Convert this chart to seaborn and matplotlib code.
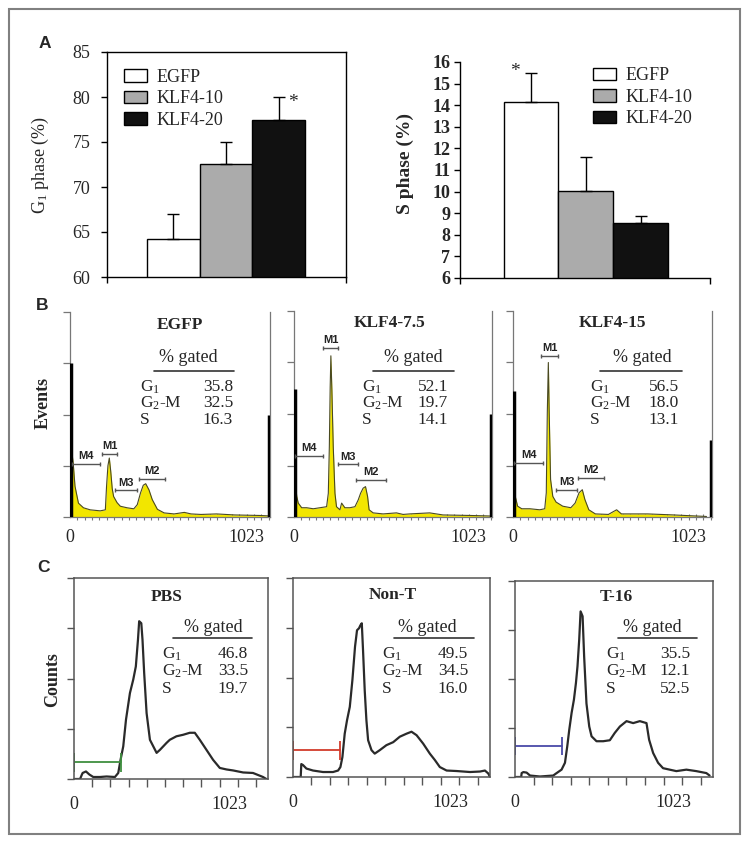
import numpy as np
import pandas as pd
import matplotlib
matplotlib.use("Agg")
import matplotlib.pyplot as plt
from matplotlib.patches import Patch, Rectangle
from matplotlib.lines import Line2D
import seaborn as sns

W, H = 747, 842

# ---- panel A: bar charts ----
groups = ["EGFP", "KLF4-10", "KLF4-20"]
g1_mean = [64.2, 72.6, 77.4]
g1_err = [2.8, 2.4, 2.6]
s_mean = [14.15, 10.05, 8.55]
s_err = [1.35, 1.55, 0.3]
bar_colors = ["white", "#ababab", "#111111"]

# ---- panel B: DNA content histograms (channel, events) ----
b_titles = ["EGFP", "KLF4-7.5", "KLF4-15"]
b_gated = [("35.8", "32.5", "16.3"), ("52.1", "19.7", "14.1"), ("56.5", "18.0", "13.1")]
b_ch_egfp = [0, 6, 10, 20, 29, 49, 78, 117, 175, 205, 212, 220, 228, 236, 245, 253, 273,
             292, 331, 370, 390, 409, 425, 439, 458, 477, 507, 546, 604, 663, 702, 760,
             850, 955, 1100, 1160]
b_ev_egfp = [1.64, 1.64, 1.3, 0.99, 0.60, 0.27, 0.18, 0.14, 0.12, 0.14, 0.6, 1.0, 1.15, 0.9,
             0.55, 0.40, 0.28, 0.21, 0.18, 0.16, 0.24, 0.47, 0.62, 0.65, 0.53, 0.34, 0.15,
             0.08, 0.06, 0.09, 0.06, 0.05, 0.06, 0.04, 0.03, 0.02]
b_ch_k75 = [0, 6, 16, 25, 45, 74, 113, 152, 191, 201, 207, 212, 216, 222, 230, 240, 249,
            269, 279, 298, 327, 357, 376, 390, 405, 419, 431, 440, 464, 522, 600, 639, 678,
            795, 873, 1029, 1146]
b_ev_k75 = [0.72, 0.72, 0.40, 0.27, 0.18, 0.18, 0.16, 0.18, 0.20, 0.46, 1.36, 2.52, 3.13,
            2.46, 1.36, 0.46, 0.20, 0.14, 0.27, 0.18, 0.18, 0.20, 0.33, 0.46, 0.56, 0.59,
            0.40, 0.14, 0.08, 0.06, 0.08, 0.05, 0.06, 0.08, 0.04, 0.03, 0.02]
b_ch_k15 = [0, 4, 13, 27, 51, 99, 156, 185, 194, 200, 206, 211, 219, 232, 251, 290, 337,
            362, 385, 404, 419, 442, 480, 556, 604, 632, 785, 937, 1128]
b_ev_k15 = [0.66, 0.66, 0.40, 0.21, 0.16, 0.16, 0.14, 0.16, 0.47, 2.03, 3.0, 2.03, 0.73,
            0.40, 0.29, 0.21, 0.18, 0.27, 0.47, 0.53, 0.34, 0.14, 0.06, 0.05, 0.14, 0.06,
            0.06, 0.04, 0.01]
b_channels = [b_ch_egfp, b_ch_k75, b_ch_k15]
b_events = [b_ev_egfp, b_ev_k75, b_ev_k15]
b_first_bin = [3.0, 2.49, 2.45]
b_last_bin = [2.0, 2.0, 1.5]
# markers: (label, start, end, height)
b_markers = [
    [("M4", 10, 175, 1.04), ("M1", 185, 273, 1.23), ("M3", 263, 390, 0.52), ("M2", 400, 550, 0.75)],
    [("M4", 6, 172, 1.19), ("M1", 168, 259, 3.29), ("M3", 255, 376, 1.02), ("M2", 366, 538, 0.72)],
    [("M4", 8, 175, 1.05), ("M1", 166, 261, 3.13), ("M3", 251, 375, 0.53), ("M2", 381, 533, 0.76)],
]

# ---- panel C: counts histograms ----
c_titles = ["PBS", "Non-T", "T-16"]
c_gated = [("46.8", "33.5", "19.7"), ("49.5", "34.5", "16.0"), ("35.5", "12.1", "52.5")]
c_ch_pbs = [0, 40, 51, 57, 79, 101, 127, 171, 215, 270, 292, 307, 325, 343, 369, 391, 408,
            422, 430, 444, 452, 463, 479, 501, 523, 545, 567, 589, 611, 632, 676, 720, 764,
            797, 830, 874, 918, 962, 1006, 1050, 1116, 1181, 1247, 1269]
c_ct_pbs = [0, 0, 0.08, 0.12, 0.15, 0.09, 0.04, 0.04, 0.05, 0.04, 0.12, 0.38, 0.65, 1.18,
            1.71, 1.98, 2.24, 2.77, 3.14, 3.10, 2.77, 2.11, 1.31, 0.78, 0.65, 0.52, 0.58,
            0.65, 0.72, 0.78, 0.85, 0.88, 0.92, 0.92, 0.78, 0.58, 0.38, 0.22, 0.19, 0.17,
            0.13, 0.12, 0.04, 0.0]
c_ch_nont = [0, 50, 54, 65, 87, 130, 195, 260, 293, 308, 321, 336, 351, 369, 386, 403, 416,
             429, 438, 447, 455, 466, 477, 488, 510, 531, 564, 607, 651, 694, 737, 770, 803,
             846, 889, 922, 954, 998, 1063, 1150, 1215, 1247, 1269, 1280]
c_ct_nont = [0, 0, 0.26, 0.24, 0.17, 0.13, 0.10, 0.10, 0.13, 0.20, 0.40, 0.87, 1.14, 1.41,
             1.95, 2.62, 2.95, 2.99, 3.05, 3.09, 2.55, 1.74, 1.14, 0.74, 0.54, 0.47, 0.54,
             0.64, 0.70, 0.81, 0.87, 0.91, 0.84, 0.67, 0.47, 0.34, 0.20, 0.13, 0.12, 0.10,
             0.11, 0.13, 0.07, 0.0]
c_ch_t16 = [0, 40, 43, 54, 75, 97, 161, 247, 269, 301, 323, 338, 351, 366, 381, 394, 404,
            415, 424, 437, 447, 462, 480, 495, 527, 570, 613, 645, 678, 721, 764, 807, 850,
            867, 893, 925, 957, 1043, 1108, 1172, 1237, 1258]
c_ct_t16 = [0, 0, 0.08, 0.10, 0.09, 0.03, 0.01, 0.03, 0.08, 0.15, 0.29, 0.63, 0.97, 1.31,
            1.58, 1.92, 2.26, 2.80, 3.38, 3.28, 2.46, 1.50, 1.03, 0.83, 0.73, 0.73, 0.75,
            0.90, 1.03, 1.14, 1.10, 1.14, 1.10, 0.76, 0.49, 0.29, 0.18, 0.12, 0.15, 0.12,
            0.08, 0.03]
c_channels = [c_ch_pbs, c_ch_nont, c_ch_t16]
c_counts = [c_ct_pbs, c_ct_nont, c_ct_t16]
c_gate_end = [307, 308, 301]
c_gate_level = [0.33, 0.54, 0.63]
c_gate_colors = ["#3f8f3f", "#d23b2b", "#4a4aa8"]

YELLOW = "#f2e600"
SERIF = ["Liberation Serif", "DejaVu Serif"]
SANS = ["Liberation Sans", "DejaVu Sans"]

sns.set_theme(style="white")
plt.rcParams["font.family"] = SERIF
plt.rcParams["mathtext.fontset"] = "custom"
plt.rcParams["mathtext.rm"] = "Liberation Serif"
plt.rcParams["mathtext.it"] = "Liberation Serif:italic"
plt.rcParams["mathtext.bf"] = "Liberation Serif:bold"


def rect(l, t, r, b):
    return [l / W, 1 - b / H, (r - l) / W, (b - t) / H]


def ftext(x, y, s, **kw):
    return fig.text(x / W, 1 - y / H, s, **kw)


def fline(x0, x1, y, **kw):
    fig.add_artist(Line2D([x0 / W, x1 / W], [1 - y / H] * 2, **kw))


def bar_legend(ax, anchor):
    ax.legend(handles=[Patch(facecolor=c, edgecolor="black", lw=1, label=g)
                       for c, g in zip(bar_colors, groups)],
              loc="upper left", bbox_to_anchor=anchor, frameon=False, fontsize=13,
              handlelength=1.3, handleheight=0.7, labelspacing=0.25, handletextpad=0.5,
              borderaxespad=0, borderpad=0)


fig = plt.figure(figsize=(W / 100, H / 100), dpi=100)
fig.add_artist(Rectangle((9 / W, 1 - 834 / H), 731 / W, 825 / H, fill=False,
                         edgecolor="#808080", lw=1.5, transform=fig.transFigure))

# ---------- A left: G1 ----------
ax = fig.add_axes(rect(107, 52, 346, 277))
df = pd.DataFrame({"group": groups, "value": g1_mean})
sns.barplot(data=df, x="group", y="value", hue="group", palette=bar_colors, width=1.0,
            saturation=1, edgecolor="black", linewidth=1, errorbar=None, legend=False, ax=ax)
ax.errorbar(range(3), g1_mean, yerr=[np.zeros(3), g1_err], fmt="none", ecolor="black",
            elinewidth=1, capsize=4.5, capthick=1, zorder=5)
ax.set_xlim(-1.26, 3.28)
ax.set_ylim(60, 85)
ax.set_yticks(range(60, 86, 5))
ax.set_xticks([-1.26, 3.28])
ax.set_xticklabels([])
ax.set_xlabel("")
ax.set_ylabel("")
for sp in ax.spines.values():
    sp.set_color("black")
    sp.set_linewidth(1)
ax.tick_params(axis="both", direction="out", length=4, width=1, color="black",
               labelsize=13, left=True, bottom=True, pad=8)
ax.text(2.27, 79.4, "*", fontsize=14, ha="center", va="center")
bar_legend(ax, (0.071, 0.925))
ftext(40, 165, "G$_1$ phase (%)", rotation=90, ha="center", va="center", fontsize=13)

# ---------- A right: S ----------
ax = fig.add_axes(rect(460, 62, 710, 278))
df = pd.DataFrame({"group": groups, "value": s_mean})
sns.barplot(data=df, x="group", y="value", hue="group", palette=bar_colors, width=1.0,
            saturation=1, edgecolor="black", linewidth=1, errorbar=None, legend=False, ax=ax)
ax.errorbar(range(3), s_mean, yerr=[np.zeros(3), s_err], fmt="none", ecolor="black",
            elinewidth=1, capsize=4.5, capthick=1, zorder=5)
ax.set_xlim(-1.30, 3.27)
ax.set_ylim(6, 16)
ax.set_yticks(range(6, 17))
ax.set_xticks([-1.30, 3.27])
ax.set_xticklabels([])
ax.set_xlabel("")
ax.set_ylabel("")
sns.despine(ax=ax)
for sp in ax.spines.values():
    sp.set_color("black")
    sp.set_linewidth(1)
ax.tick_params(axis="both", direction="out", length=4, width=1, color="black",
               labelsize=13, left=True, bottom=True, pad=3)
for lab in ax.get_yticklabels():
    lab.set_fontweight("bold")
ax.text(-0.3, 15.55, "*", fontsize=14, ha="center", va="center")
bar_legend(ax, (0.532, 0.975))
ftext(405, 163, "S phase (%)", rotation=90, ha="center", va="center", fontsize=14,
      fontweight="bold")

# ---------- B ----------
b_rects = [rect(70, 312, 270, 517), rect(294, 311, 492, 517), rect(513, 311, 712, 517)]
b_text_pos = [  # title, %gated centre, underline x0/x1, label x, value right x
    ((180, 325), 188, (154, 234), 140, 233),
    ((390, 323), 413, (373, 454), 362, 448),
    ((612, 323), 642, (600, 682), 590, 679),
]
BXMAX = 1160
for i in range(3):
    ax = fig.add_axes(b_rects[i])
    ch, ev = b_channels[i], b_events[i]
    ax.fill_between(ch, ev, color=YELLOW, lw=0, zorder=1)
    sns.lineplot(x=ch, y=ev, ax=ax, color="#4a4a20", lw=0.8, zorder=2)
    ax.vlines(4, 0, b_first_bin[i], color="black", lw=2.5, zorder=3)
    ax.vlines(BXMAX - 6, 0, b_last_bin[i], color="black", lw=2.5, zorder=3)
    for lab, a, b, h in b_markers[i]:
        ax.plot([a, b], [h, h], color="#555555", lw=1, marker="|", ms=3, mew=1, zorder=4)
        ax.annotate(lab, xy=((a + b) / 2, h), xytext=(0, 2), textcoords="offset points",
                    ha="center", va="bottom", fontsize=8, fontweight="bold", family=SANS,
                    color="#222222")
    ax.set_xlim(0, BXMAX)
    ax.set_ylim(0, 4)
    ax.set_yticks(range(5))
    ax.set_yticklabels([])
    ax.set_xticks([0, 1023])
    ax.set_xticklabels(["0", "1023"])
    ax.set_xticks(np.arange(0, BXMAX, 42.7), minor=True)
    ax.spines["top"].set_visible(False)
    for sp in ["left", "bottom", "right"]:
        ax.spines[sp].set_color("#777777")
        ax.spines[sp].set_linewidth(0.9)
    ax.tick_params(axis="y", left=True, direction="out", length=5, width=0.9, color="#777777")
    ax.tick_params(axis="x", which="major", bottom=True, length=0, labelsize=13, pad=9)
    ax.tick_params(axis="x", which="minor", bottom=True, direction="inout", length=4,
                   width=0.8, color="#777777")
    ax.set_xlabel("")
    ax.set_ylabel("")
    (tx, ty), gx, (u0, u1), lx, vx = b_text_pos[i]
    ftext(tx, ty, b_titles[i], ha="center", va="center", fontsize=12.5, fontweight="bold")
    ftext(gx, 358, "% gated", ha="center", va="center", fontsize=13)
    fline(u0, u1, 371, color="#333333", lw=1.2)
    for lab, val, y in zip(["G$_1$", "G$_2$-M", "S"], b_gated[i], [387, 403, 420]):
        ftext(lx, y, lab, ha="left", va="center", fontsize=12.5)
        ftext(vx, y, val, ha="right", va="center", fontsize=12.5)
ftext(43, 403, "Events", rotation=90, ha="center", va="center", fontsize=13, fontweight="bold")

# ---------- C ----------
c_rects = [rect(74, 578, 268, 779), rect(293, 578, 490, 777), rect(515, 581, 713, 777)]
c_text_pos = [
    ((167, 597), 213, (173, 252), 162, 248),
    ((393, 595), 427, (394, 474), 382, 468),
    ((616, 597), 652, (618, 697), 606, 690),
]
CXMAX = 1280
for i in range(3):
    ax = fig.add_axes(c_rects[i])
    sns.lineplot(x=c_channels[i], y=c_counts[i], ax=ax, color="#2a2a2a", lw=1.6)
    g = c_gate_level[i]
    ax.plot([0, c_gate_end[i]], [g, g], color=c_gate_colors[i], lw=1.3)
    ax.vlines([0, c_gate_end[i]], g - 0.19, g + 0.19, color=c_gate_colors[i], lw=1.3)
    ax.set_xlim(0, CXMAX)
    ax.set_ylim(0, 4)
    ax.set_yticks(range(5))
    ax.set_yticklabels([])
    ax.set_xticks([0, 1023])
    ax.set_xticklabels(["0", "1023"])
    ax.set_xticks(np.arange(0, CXMAX, 120), minor=True)
    for sp in ax.spines.values():
        sp.set_color("#555555")
        sp.set_linewidth(1.1)
    ax.tick_params(axis="y", left=True, direction="out", length=5, width=1, color="#555555")
    ax.tick_params(axis="x", which="major", bottom=True, length=0, labelsize=13, pad=12)
    ax.tick_params(axis="x", which="minor", bottom=True, direction="out", length=6,
                   width=1, color="#555555")
    ax.set_xlabel("")
    ax.set_ylabel("")
    (tx, ty), gx, (u0, u1), lx, vx = c_text_pos[i]
    ftext(tx, ty, c_titles[i], ha="center", va="center", fontsize=12.5, fontweight="bold")
    ftext(gx, 627, "% gated", ha="center", va="center", fontsize=13)
    fline(u0, u1, 638, color="#333333", lw=1.2)
    for lab, val, y in zip(["G$_1$", "G$_2$-M", "S"], c_gated[i], [654, 671, 689]):
        ftext(lx, y, lab, ha="left", va="center", fontsize=12.5)
        ftext(vx, y, val, ha="right", va="center", fontsize=12.5)
ftext(53, 680, "Counts", rotation=90, ha="center", va="center", fontsize=13, fontweight="bold")

# panel letters
ftext(45, 43, "A", ha="center", va="center", fontsize=12.5, fontweight="bold", family=SANS)
ftext(42, 306, "B", ha="center", va="center", fontsize=12.5, fontweight="bold", family=SANS)
ftext(43, 567, "C", ha="center", va="center", fontsize=12.5, fontweight="bold", family=SANS)

fig.savefig("out.png", dpi=100)
plt.close(fig)
